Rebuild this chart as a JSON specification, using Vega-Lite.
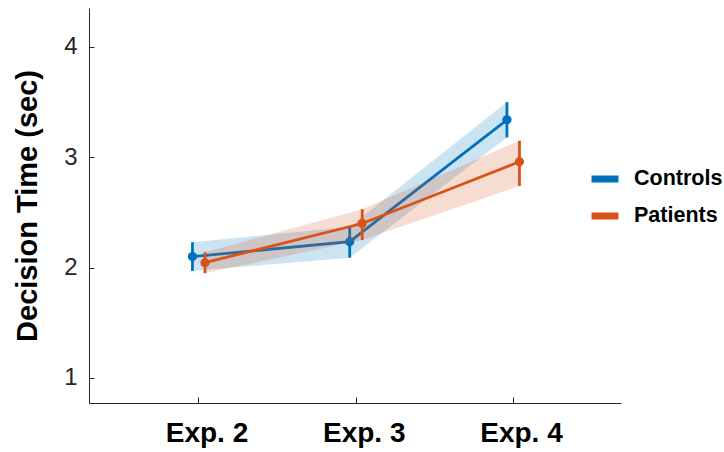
{
  "$schema": "https://vega.github.io/schema/vega-lite/v6.json",
  "autosize": "none",
  "width": 532,
  "height": 395,
  "padding": {"left": 89, "top": 8, "right": 103, "bottom": 49},
  "background": "white",
  "config": {
    "view": {"stroke": null},
    "font": "Liberation Sans",
    "axis": {"grid": false, "domainColor": "#262626", "tickColor": "#262626", "labelColor": "#262626", "titleColor": "#000000", "domainWidth": 1, "tickWidth": 1},
    "legend": {"orient": "none", "legendX": 499, "legendY": 154, "title": null, "symbolType": "stroke", "symbolStrokeWidth": 7, "symbolSize": 729, "labelFontSize": 21.5, "labelFontWeight": "bold", "labelColor": "#000000", "rowPadding": 6, "labelOffset": 12, "symbolOpacity": 1}
  },
  "data": {
    "values": [
      {"group": "Controls", "exp": 2, "mean": 2.10, "lo": 1.97, "hi": 2.23},
      {"group": "Controls", "exp": 3, "mean": 2.235, "lo": 2.09, "hi": 2.37},
      {"group": "Controls", "exp": 4, "mean": 3.34, "lo": 3.18, "hi": 3.50},
      {"group": "Patients", "exp": 2, "mean": 2.045, "lo": 1.95, "hi": 2.14},
      {"group": "Patients", "exp": 3, "mean": 2.40, "lo": 2.25, "hi": 2.53},
      {"group": "Patients", "exp": 4, "mean": 2.96, "lo": 2.74, "hi": 3.15}
    ]
  },
  "encoding": {
    "x": {
      "field": "exp", "type": "quantitative",
      "scale": {"domain": [1.304, 4.687], "nice": false, "zero": false},
      "axis": {"values": [2, 3, 4], "labelExpr": "'Exp. ' + datum.value", "title": null, "labelFontSize": 28, "labelFontWeight": "bold", "labelColor": "#000000", "tickSize": -6, "labelPadding": 22, "labelOffset": 8}
    }
  },
  "layer": [
    {
      "transform": [{"filter": "datum.group === 'Controls'"}],
      "mark": {"type": "area", "opacity": 0.2, "xOffset": -6},
      "encoding": {
        "y": {"field": "lo", "type": "quantitative", "scale": {"domain": [0.773, 4.353], "nice": false, "zero": false},
          "axis": {"values": [1, 2, 3, 4], "format": "d", "title": "Decision Time (sec)", "titleFontSize": 29, "titleFontWeight": "bold", "titlePadding": 21, "labelFontSize": 24, "tickSize": -5, "labelPadding": 17}},
        "y2": {"field": "hi"},
        "fill": {"field": "group", "type": "nominal", "scale": {"domain": ["Controls", "Patients"], "range": ["#0072BD", "#D95319"]}}
      }
    },
    {
      "transform": [{"filter": "datum.group === 'Controls'"}],
      "mark": {"type": "line", "strokeWidth": 2.8, "xOffset": -6},
      "encoding": {
        "y": {"field": "mean", "type": "quantitative"},
        "stroke": {"field": "group", "type": "nominal", "scale": {"domain": ["Controls", "Patients"], "range": ["#0072BD", "#D95319"]}}
      }
    },
    {
      "transform": [{"filter": "datum.group === 'Controls'"}],
      "mark": {"type": "rule", "strokeWidth": 2.8, "xOffset": -6},
      "encoding": {
        "y": {"field": "lo", "type": "quantitative"},
        "y2": {"field": "hi"},
        "stroke": {"field": "group", "type": "nominal"}
      }
    },
    {
      "transform": [{"filter": "datum.group === 'Controls'"}],
      "mark": {"type": "point", "filled": true, "opacity": 1, "size": 85, "xOffset": -6},
      "encoding": {
        "y": {"field": "mean", "type": "quantitative"},
        "fill": {"field": "group", "type": "nominal"}
      }
    },
    {
      "transform": [{"filter": "datum.group === 'Patients'"}],
      "mark": {"type": "area", "opacity": 0.2, "xOffset": 6.5},
      "encoding": {
        "y": {"field": "lo", "type": "quantitative"},
        "y2": {"field": "hi"},
        "fill": {"field": "group", "type": "nominal"}
      }
    },
    {
      "transform": [{"filter": "datum.group === 'Patients'"}],
      "mark": {"type": "line", "strokeWidth": 2.8, "xOffset": 6.5},
      "encoding": {
        "y": {"field": "mean", "type": "quantitative"},
        "stroke": {"field": "group", "type": "nominal"}
      }
    },
    {
      "transform": [{"filter": "datum.group === 'Patients'"}],
      "mark": {"type": "rule", "strokeWidth": 2.8, "xOffset": 6.5},
      "encoding": {
        "y": {"field": "lo", "type": "quantitative"},
        "y2": {"field": "hi"},
        "stroke": {"field": "group", "type": "nominal"}
      }
    },
    {
      "transform": [{"filter": "datum.group === 'Patients'"}],
      "mark": {"type": "point", "filled": true, "opacity": 1, "size": 85, "xOffset": 6.5},
      "encoding": {
        "y": {"field": "mean", "type": "quantitative"},
        "fill": {"field": "group", "type": "nominal"}
      }
    }
  ]
}
